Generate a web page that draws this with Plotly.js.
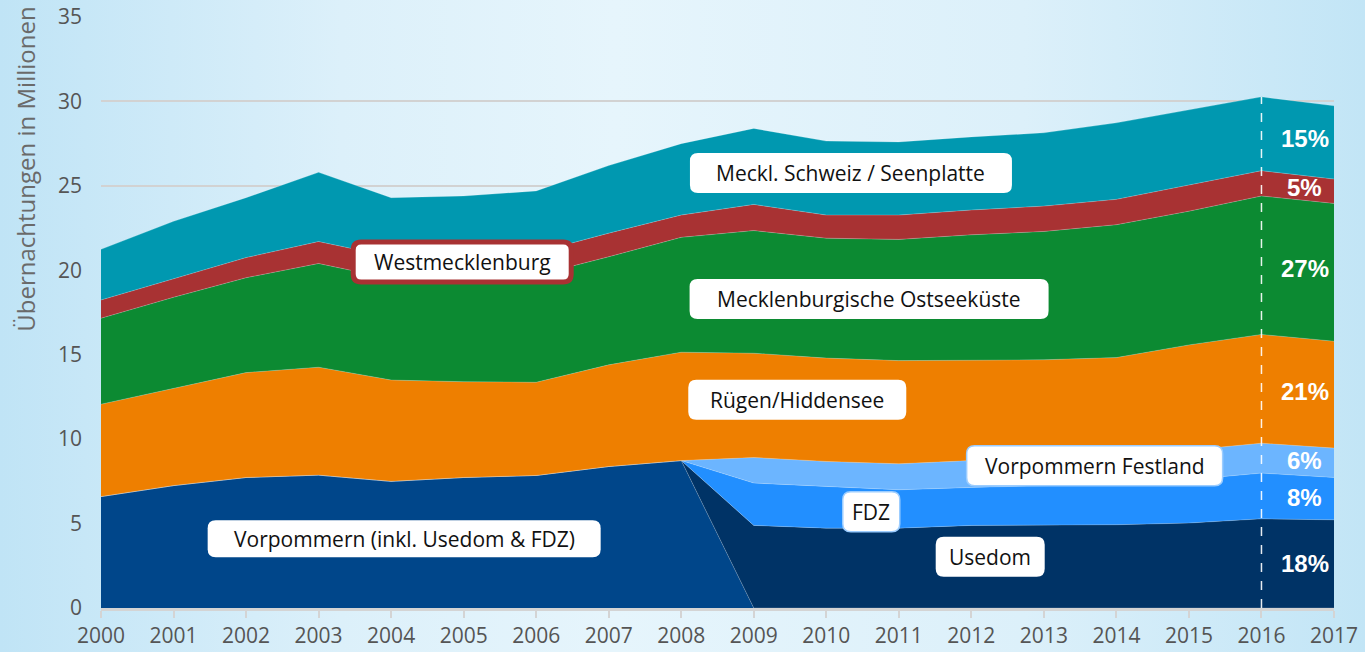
<!DOCTYPE html>
<html>
<head>
<meta charset="utf-8">
<script src="https://cdn.plot.ly/plotly-3.0.1.min.js"></script>
<style>
  html, body { margin: 0; padding: 0; }
  body {
    width: 1365px; height: 652px; overflow: hidden;
    background: linear-gradient(to right, #c0e4f6 0%, #dcf0fa 25%, #e6f5fc 45%, #dcf0fa 75%, #c2e5f6 100%);
  }
  #chart { width: 1365px; height: 652px; }
</style>
</head>
<body>
<div id="chart"></div>
<script>
// Übernachtungen in Mio. je Reisegebiet (gestapelt)
var years = [2000, 2001, 2002, 2003, 2004, 2005, 2006, 2007, 2008,
             2009, 2010, 2011, 2012, 2013, 2014, 2015, 2016, 2017];

var vorpommern = [6.6, 7.25, 7.73, 7.87, 7.5, 7.73, 7.85, 8.38, 8.73, 0, 0, 0, 0, 0, 0, 0, 0, 0];
var usedom     = [0, 0, 0, 0, 0, 0, 0, 0, 0, 4.89, 4.73, 4.73, 4.89, 4.89, 4.93, 5.03, 5.28, 5.22];
var fdz        = [0, 0, 0, 0, 0, 0, 0, 0, 0, 2.51, 2.47, 2.27, 2.25, 2.36, 2.42, 2.57, 2.71, 2.51];
var festland   = [0, 0, 0, 0, 0, 0, 0, 0, 0, 1.51, 1.48, 1.54, 1.59, 1.6, 1.65, 1.75, 1.77, 1.74];
var ruegen     = [5.47, 5.75, 6.21, 6.39, 6.0, 5.67, 5.52, 6.02, 6.42, 6.18, 6.12, 6.11, 5.95, 5.85, 5.83, 6.23, 6.44, 6.33];
var ostsee     = [5.09, 5.4, 5.62, 6.14, 6.0, 6.2, 6.33, 6.4, 6.8, 7.26, 7.1, 7.18, 7.42, 7.6, 7.87, 7.92, 8.2, 8.16];
var westmeck   = [1.08, 1.1, 1.19, 1.3, 1.3, 1.35, 1.35, 1.4, 1.32, 1.55, 1.37, 1.44, 1.47, 1.5, 1.5, 1.55, 1.5, 1.44];
var seenplatte = [3.0, 3.4, 3.55, 4.1, 3.5, 3.45, 3.65, 4.0, 4.23, 4.5, 4.38, 4.33, 4.33, 4.34, 4.53, 4.45, 4.37, 4.34];

var seriesNames = ['Vorpommern (inkl. Usedom & FDZ)', 'Usedom', 'FDZ', 'Vorpommern Festland',
                   'Rügen/Hiddensee', 'Mecklenburgische Ostseeküste', 'Westmecklenburg',
                   'Meckl. Schweiz / Seenplatte'];
var pctLabels = ['', '18%', '8%', '6%', '21%', '27%', '5%', '15%'];

var colors = ['#00468a', '#003366', '#228fff', '#6cb5ff', '#ee7f00', '#0c8a32', '#a83233', '#0098b0'];
var allSeries = [vorpommern, usedom, fdz, festland, ruegen, ostsee, westmeck, seenplatte];

var data = allSeries.map(function (vals, i) {
  return {
    x: years,
    y: vals,
    name: seriesNames[i],
    type: 'scatter',
    mode: 'lines',
    stackgroup: 'one',
    fillcolor: colors[i],
    line: { width: 0.7, color: 'rgba(255,255,255,0.3)' },
    hoverinfo: 'x+y+name'
  };
});

// cumulative tops, used for the percent labels and the 2016 marker
var tops = [];
var running = years.map(function () { return 0; });
allSeries.forEach(function (vals) {
  running = running.map(function (r, k) { return r + vals[k]; });
  tops.push(running.slice());
});
var i16 = years.indexOf(2016);
var i17 = years.indexOf(2017);

// label boxes: text, center (data coords), box size in px
var labels = [
  { text: 'Meckl. Schweiz / Seenplatte', x: 2010.34, y: 25.76, w: 322, h: 40 },
  { text: 'Westmecklenburg', x: 2004.98, y: 20.49, w: 218, h: 40, border: '#a83233' },
  { text: 'Mecklenburgische Ostseeküste', x: 2010.59, y: 18.3, w: 359, h: 40 },
  { text: 'Rügen/Hiddensee', x: 2009.6, y: 12.33, w: 218, h: 40 },
  { text: 'Vorpommern Festland', x: 2013.7, y: 8.42, w: 256, h: 40, border: '#9ccdff' },
  { text: 'FDZ', x: 2010.62, y: 5.7, w: 57, h: 40, border: '#9ccdff' },
  { text: 'Vorpommern (inkl. Usedom & FDZ)', x: 2004.18, y: 4.1, w: 393, h: 37 },
  { text: 'Usedom', x: 2012.26, y: 3.04, w: 109, h: 40 }
];

function roundedBox(w, h, r) {
  var a = w / 2, b = h / 2;
  return 'M ' + (-a + r) + ',' + (-b) +
    ' L ' + (a - r) + ',' + (-b) + ' Q ' + a + ',' + (-b) + ' ' + a + ',' + (-b + r) +
    ' L ' + a + ',' + (b - r) + ' Q ' + a + ',' + b + ' ' + (a - r) + ',' + b +
    ' L ' + (-a + r) + ',' + b + ' Q ' + (-a) + ',' + b + ' ' + (-a) + ',' + (b - r) +
    ' L ' + (-a) + ',' + (-b + r) + ' Q ' + (-a) + ',' + (-b) + ' ' + (-a + r) + ',' + (-b) + ' Z';
}

var shapes = labels.map(function (lb) {
  return {
    type: 'path',
    xref: 'x', yref: 'y',
    xsizemode: 'pixel', ysizemode: 'pixel',
    xanchor: lb.x, yanchor: lb.y,
    path: roundedBox(lb.w, lb.h, 8),
    fillcolor: '#ffffff',
    line: { color: lb.border || '#ffffff', width: lb.border === '#a83233' ? 5 : (lb.border ? 1.5 : 0) },
    layer: 'above'
  };
});

shapes.push({
  type: 'line', xref: 'x', yref: 'y',
  x0: 2016, x1: 2016, y0: 0, y1: tops[tops.length - 1][i16],
  line: { color: 'rgba(255,255,255,0.9)', width: 1.5, dash: 'dash' },
  layer: 'above'
});

var annotations = labels.map(function (lb) {
  return {
    text: lb.text, x: lb.x, y: lb.y, xref: 'x', yref: 'y',
    showarrow: false, xanchor: 'center', yanchor: 'middle',
    font: { family: 'Open Sans, sans-serif', size: 21, color: '#111' }
  };
});

// percent shares for 2016 at the right edge
for (var s = 1; s < allSeries.length; s++) {
  var lo16 = tops[s - 1][i16], lo17 = tops[s - 1][i17];
  var hi16 = tops[s][i16], hi17 = tops[s][i17];
  annotations.push({
    text: '<b>' + pctLabels[s] + '</b>',
    x: 2016.6, y: (lo16 + lo17 + hi16 + hi17) / 4,
    xref: 'x', yref: 'y', showarrow: false,
    xanchor: 'center', yanchor: 'middle',
    font: { family: 'Liberation Sans, Arial, sans-serif', size: 24, color: '#ffffff' }
  });
}

annotations.push({
  text: 'Übernachtungen in Millionen',
  xref: 'paper', yref: 'paper', x: -0.061, y: 0.743,
  textangle: -90, showarrow: false, xanchor: 'center', yanchor: 'middle',
  font: { family: 'Open Sans, sans-serif', size: 24, color: '#6a6a6a' }
});

var layout = {
  width: 1365,
  height: 652,
  margin: { l: 101, r: 31, t: 17, b: 44 },
  paper_bgcolor: 'rgba(0,0,0,0)',
  plot_bgcolor: 'rgba(0,0,0,0)',
  showlegend: false,
  font: { family: 'Open Sans, sans-serif', color: '#555' },
  xaxis: {
    range: [2000, 2017],
    tickmode: 'array',
    tickvals: years,
    ticktext: years.map(String),
    showgrid: false,
    showline: true,
    linecolor: '#d4d4d4',
    linewidth: 3,
    ticks: 'outside',
    ticklen: 7,
    tickwidth: 2,
    tickcolor: '#d4d4d4',
    tickfont: { size: 21, color: '#555' },
    zeroline: false
  },
  yaxis: {
    range: [0, 35],
    dtick: 5,
    showgrid: true,
    gridcolor: '#d2d2d2',
    gridwidth: 2,
    zeroline: false,
    showline: false,
    ticks: '',
    ticklabelstandoff: 18,
    tickfont: { size: 21, color: '#555' }
  },
  shapes: shapes,
  annotations: annotations
};

Plotly.newPlot('chart', data, layout, { displayModeBar: false });
</script>
</body>
</html>
